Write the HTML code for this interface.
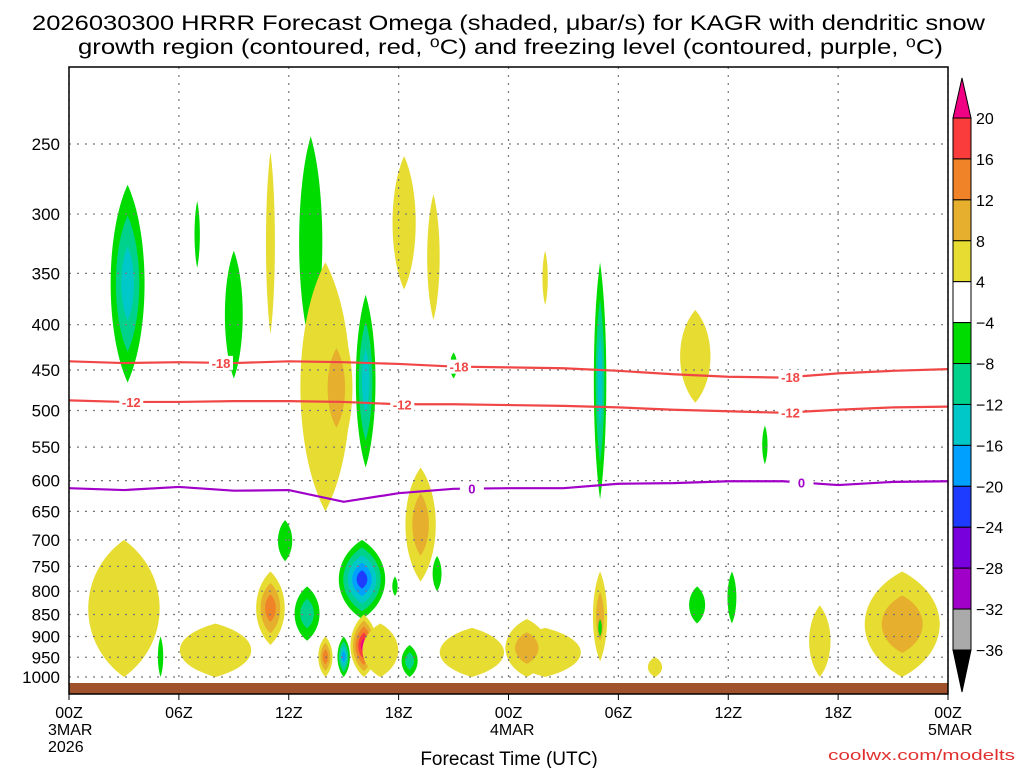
<!DOCTYPE html>
<html><head><meta charset="utf-8"><style>
body{margin:0;background:#fff;}
svg{display:block;font-family:"Liberation Sans",sans-serif;}
</style></head><body>
<svg id="chart" width="1024" height="768" viewBox="0 0 1024 768" xmlns="http://www.w3.org/2000/svg">
<text x="32" y="30" font-size="21" textLength="953" lengthAdjust="spacingAndGlyphs">2026030300 HRRR Forecast Omega (shaded, μbar/s) for KAGR with dendritic snow</text>
<text x="78" y="54" font-size="21" textLength="865" lengthAdjust="spacingAndGlyphs">growth region (contoured, red, ⁰C) and freezing level (contoured, purple, ⁰C)</text>
<g id="shade"></g>
<g id="grid"></g>
<g id="lines"></g>
<rect x="69" y="683" width="879" height="11" fill="#a0522d"/>
<rect x="69" y="67" width="879" height="627" fill="none" stroke="#000" stroke-width="1.5"/>
<g id="axes" font-size="17"></g>
<g id="cbar"></g>
<text x="509" y="765" font-size="19" text-anchor="middle">Forecast Time (UTC)</text>
<text x="828" y="760" font-size="15" fill="#e03030" textLength="187" lengthAdjust="spacingAndGlyphs">coolwx.com/modelts</text>
</svg>
<script>
// ---- data ----
const pressureTicks=[250,300,350,400,450,500,550,600,650,700,750,800,850,900,950,1000];
const hourTicks=[0,6,12,18,24,30,36,42,48];
const hourLabels=["00Z","06Z","12Z","18Z","00Z","06Z","12Z","18Z","00Z"];
const lineHours=[0,3,6,9,12,15,18,21,24,27,30,33,36,39,42,45,48];
const iso18=[440,442,441,442,440,441,443,446,447,448,451,455,458,459,454,451,449];
const iso12=[487,489,489,488,488,489,492,492,493,494,496,499,501,503,499,496,495];
const iso0=[612,615,610,616,615,634,620,613,612,612,605,604,601,601,607,602,601];
const cbarLevels=[20,16,12,8,4,-4,-8,-12,-16,-20,-24,-28,-32,-36];
// blobs: hour center, top pressure, bottom pressure, half width (hours), peak level
const blobHour=[3.2,7.0,9.0,11.0,13.2,18.3,19.9,14.0,14.6,16.2,19.2,21.0,26.0,29.0,34.2,38.0,11.8,16.0,13.0,16.1,15.0,14.0,18.6,17.8,20.1,3.0,8.0,11.0,17.0,22.0,26.0,29.0,32.0,45.5,41.0,5.0,25.0,29.0,34.3,36.2];
const blobTop=[278,290,330,255,245,258,285,340,390,370,580,430,330,340,385,520,665,700,790,850,900,900,920,770,730,700,870,760,870,880,880,760,950,760,830,900,860,860,790,760];
const blobBot=[465,345,460,410,425,365,395,650,570,580,780,460,380,630,490,575,740,860,910,1000,1000,1000,1000,810,800,1000,1000,920,1000,1000,1000,960,1000,1000,1000,1000,1000,900,870,870];
const blobWidth=[0.95,0.15,0.5,0.25,0.65,0.65,0.35,1.4,0.9,0.55,0.85,0.2,0.15,0.35,0.85,0.15,0.4,1.3,0.7,0.75,0.35,0.4,0.45,0.15,0.25,2.0,2.0,0.8,1.0,1.8,2.0,0.4,0.4,2.1,0.6,0.15,1.2,0.1,0.45,0.25];
const blobPeak=[-12,-4,-4,4,-4,4,4,4,8,-12,8,-4,4,-12,4,-4,-4,-20,-8,20,-16,12,-8,-4,-4,4,4,12,4,4,4,8,4,8,4,-4,8,-4,-4,-4];
// ---- axes ----
const X0=69,X1=948,Y1000=677,B=384.5;
const xh=h=>X0+(X1-X0)*h/48;
const yp=p=>Y1000-B*Math.log(1000/p);
const NS="http://www.w3.org/2000/svg";
function mk(t,a,parent){const e=document.createElementNS(NS,t);for(const k in a)e.setAttribute(k,a[k]);parent.appendChild(e);return e;}
const colorOf={4:"#e6dc32",8:"#e6af2d",12:"#f08228",16:"#fa3c3c",20:"#f00082","-4":"#00dc00","-8":"#00d28c","-12":"#00c8c8","-16":"#00a0ff","-20":"#1e3cff","-24":"#7800dc","-28":"#a000c8","-32":"#aaaaaa"};
const swatchColors=["#fa3c3c","#f08228","#e6af2d","#e6dc32","#ffffff","#00dc00","#00d28c","#00c8c8","#00a0ff","#1e3cff","#7800dc","#a000c8","#aaaaaa"];
const shade=document.getElementById('shade');
for(let b=0;b<blobHour.length;b++){
  const pk=blobPeak[b],sg=pk>0?1:-1,n=Math.abs(pk)/4;
  const cx=xh(blobHour[b]),yt=yp(blobTop[b]),yb=yp(Math.min(blobBot[b],1000)),cy=(yt+yb)/2,hh=(yb-yt)/2,w=blobWidth[b]*(X1-X0)/48;
  for(let i=0;i<n;i++){
    const s=1-i/(n+0.2),t=cy-hh*s,bt=cy+hh*s,ww=w*s;
    const d=`M${cx},${t} C${cx+ww*1.3},${t+hh*s*0.5} ${cx+ww*1.3},${bt-hh*s*0.5} ${cx},${bt} C${cx-ww*1.3},${bt-hh*s*0.5} ${cx-ww*1.3},${t+hh*s*0.5} ${cx},${t}Z`;
    const el=mk('path',{d:d,fill:colorOf[sg*4*(i+1)]},shade);
    
    
  }
}
const grid=document.getElementById('grid');
pressureTicks.forEach(p=>{const el=mk('line',{x1:X0,x2:X1,y1:yp(p),y2:yp(p),stroke:"#777","stroke-width":1.2,"stroke-dasharray":"2,6"},grid);

});
hourTicks.forEach(h=>{const el=mk('line',{x1:xh(h),x2:xh(h),y1:67,y2:694,stroke:"#777","stroke-width":1.2,"stroke-dasharray":"2,6"},grid);

});
const lines=document.getElementById('lines');
function contour(arr,col,name,labels,txt){
  const pts=lineHours.map((h,i)=>xh(h)+","+yp(arr[i])).join(" ");
  const el=mk('polyline',{points:pts,fill:"none",stroke:col,"stroke-width":2.2},lines);
  
  
  labels.forEach(h=>{
    let i=lineHours.findIndex(v=>v>=h);if(i<1)i=1;
    const f=(h-lineHours[i-1])/(lineHours[i]-lineHours[i-1]);
    const p=arr[i-1]+(arr[i]-arr[i-1])*f,x=xh(h),y=yp(p);
    mk('rect',{x:x-12,y:y-7,width:24,height:14,fill:"#fff"},lines);
    const t=mk('text',{x:x,y:y+5,"font-size":13,"font-weight":"bold",fill:col,"text-anchor":"middle"},lines);
    t.textContent=txt;
    
    
  });
}
contour(iso18,"#f04646","contour-minus18",[8.3,21.3,39.4],"-18");
contour(iso12,"#f04646","contour-minus12",[3.4,18.2,39.4],"-12");
contour(iso0,"#a000c8","freezing-level-contour",[22,40],"0");
const axes=document.getElementById('axes');
pressureTicks.forEach(p=>{const t=mk('text',{x:60,y:yp(p)+6,"text-anchor":"end"},axes);t.textContent=p;

});
hourTicks.forEach((h,i)=>{mk('line',{x1:xh(h),x2:xh(h),y1:694,y2:700,stroke:"#000"},axes);
const t=mk('text',{x:xh(h),y:718,"text-anchor":"middle","font-size":16},axes);t.textContent=hourLabels[i];

});
[["3MAR",48,735],["2026",48,752],["4MAR",490,735],["5MAR",928,735]].forEach(a=>{const t=mk('text',{x:a[1],y:a[2],"font-size":16},axes);t.textContent=a[0];

});
const cb=document.getElementById('cbar');
const cbx=953,cbw=18,cTop=118,cStep=(650-118)/13;
mk('path',{d:`M${cbx},${cTop} L${cbx+cbw/2},78 L${cbx+cbw},${cTop}Z`,fill:"#f00082",stroke:"#000"},cb);
mk('path',{d:`M${cbx},650 L${cbx+cbw/2},692 L${cbx+cbw},650Z`,fill:"#000",stroke:"#000"},cb);
for(let i=0;i<13;i++){
 const r=mk('rect',{x:cbx,y:cTop+i*cStep,width:cbw,height:cStep,fill:swatchColors[i],stroke:"#000"},cb);
 
 }
cbarLevels.forEach((v,i)=>{const t=mk('text',{x:976,y:cTop+i*cStep+6,"font-size":16},cb);t.textContent=v<0?"−"+(-v):v;

});
</script>
</body></html>
